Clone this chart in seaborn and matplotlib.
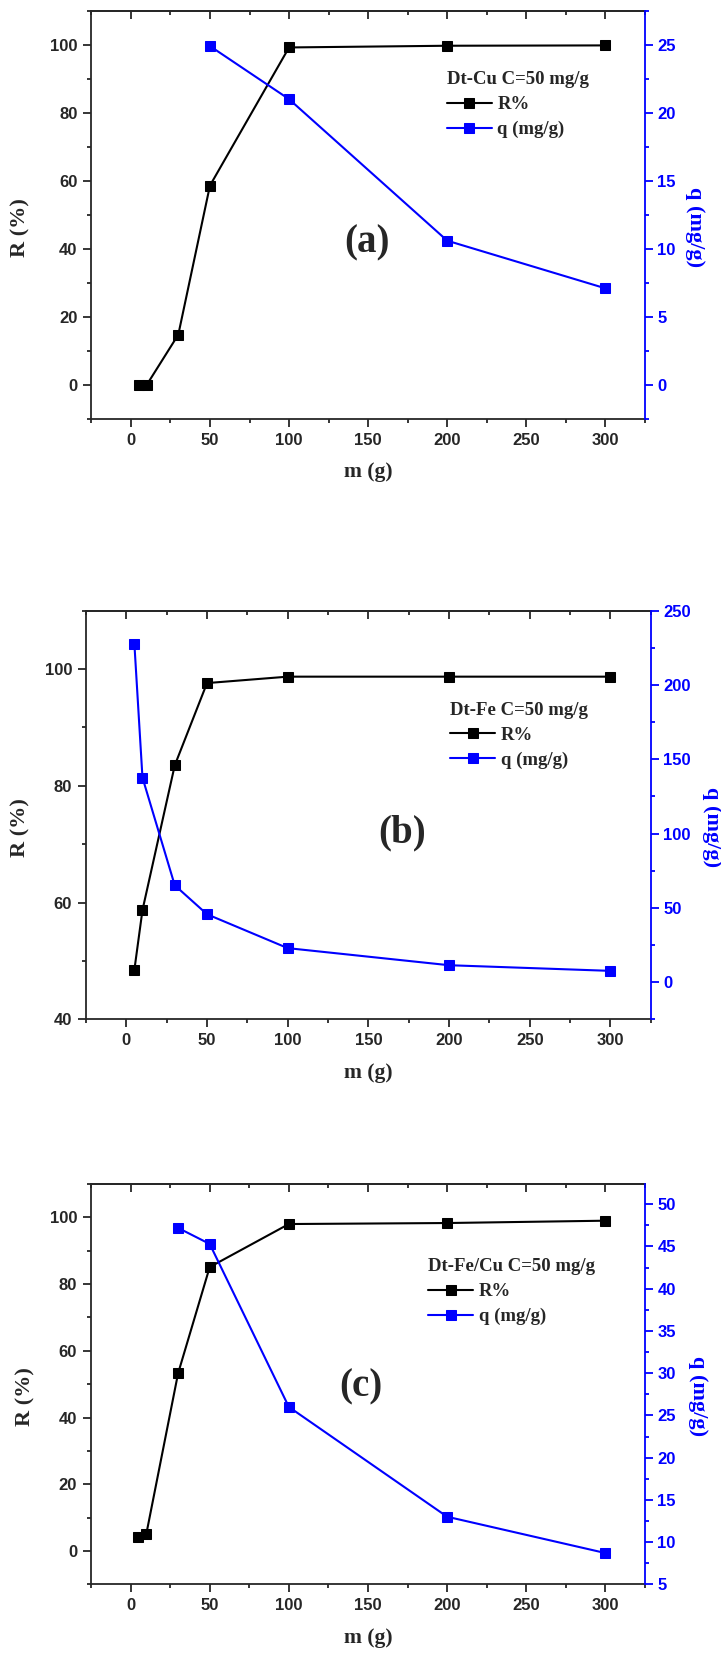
import matplotlib
matplotlib.use("Agg")
import matplotlib.pyplot as plt
import seaborn as sns
from matplotlib.ticker import MultipleLocator

# ---------------- data ----------------
mass = [5, 10, 30, 50, 100, 200, 300]

# (a) Dt-Cu
r_cu = [0.0, 0.0, 14.8, 58.6, 99.2, 99.7, 99.8]
q_cu_mass = [50, 100, 200, 300]
q_cu = [24.9, 21.0, 10.6, 7.1]

# (b) Dt-Fe
r_fe = [48.5, 58.7, 83.5, 97.6, 98.7, 98.7, 98.7]
q_fe_mass = [5, 10, 30, 50, 100, 200, 300]
q_fe = [227.4, 137.7, 65.2, 45.7, 22.9, 11.4, 7.6]

# (c) Dt-Fe/Cu
r_fecu = [4.2, 5.2, 53.2, 85.1, 98.0, 98.3, 99.0]
q_fecu_mass = [30, 50, 100, 200, 300]
q_fecu = [47.2, 45.3, 26.0, 13.0, 8.7]

titles = ["Dt-Cu C=50 mg/g", "Dt-Fe C=50 mg/g", "Dt-Fe/Cu C=50 mg/g"]
letters = ["(a)", "(b)", "(c)"]
series_labels = ["R%", "q (mg/g)"]
x_label = "m (g)"
r_label = "R (%)"
q_label = "q (mg/g)"

# ---------------- style ----------------
sns.set_style("ticks")
plt.rcParams["font.family"] = ["Liberation Sans Narrow", "Liberation Sans", "DejaVu Sans"]
plt.rcParams["font.weight"] = "bold"
plt.rcParams["font.size"] = 12
plt.rcParams["axes.linewidth"] = 1.3

SERIF = ["Liberation Serif", "DejaVu Serif"]
W, H = 721, 1661
fig = plt.figure(figsize=(W / 100, H / 100), dpi=100)


def px_rect(l, r, t, b):
    return [l / W, 1 - b / H, (r - l) / W, (b - t) / H]


panels = [
    dict(rect=px_rect(91.3, 645, 10.7, 419), r=r_cu, qx=q_cu_mass, q=q_cu,
         rlim=(-10, 110), rmaj=20, rmin=10, qlim=(-2.5, 27.5), qmaj=5, qmin=2.5,
         leg=(0.625, 0.875), letter=(0.498, 0.431), rlab=(-0.127, 0.47), qlab=(1.09, 0.47), xlab=-0.13),
    dict(rect=px_rect(86, 650.7, 610.7, 1019.3), r=r_fe, qx=q_fe_mass, q=q_fe,
         rlim=(40, 110), rmaj=20, rmin=10, qlim=(-25, 250), qmaj=50, qmin=25,
         leg=(0.628, 0.80), letter=(0.56, 0.456), rlab=(-0.116, 0.47), qlab=(1.108, 0.47), xlab=-0.131),
    dict(rect=px_rect(91, 645, 1184, 1584.3), r=r_fecu, qx=q_fecu_mass, q=q_fecu,
         rlim=(-10, 110), rmaj=20, rmin=10, qlim=(5, 52.4), qmaj=5, qmin=2.5,
         leg=(0.592, 0.838), letter=(0.487, 0.493), rlab=(-0.119, 0.47), qlab=(1.095, 0.47), xlab=-0.134),
]

for i, p in enumerate(panels):
    ax = fig.add_axes(p["rect"])
    ax2 = ax.twinx()

    sns.lineplot(x=mass, y=p["r"], ax=ax, color="black", marker="s", markersize=6.5,
                 markeredgecolor="black", linewidth=1.5, legend=False)
    sns.lineplot(x=p["qx"], y=p["q"], ax=ax2, color="blue", marker="s", markersize=6.5,
                 markeredgecolor="blue", linewidth=1.5, legend=False)

    ax.set_xlim(-25, 325)
    ax.set_ylim(*p["rlim"])
    ax2.set_ylim(*p["qlim"])

    ax.xaxis.set_major_locator(MultipleLocator(50))
    ax.xaxis.set_minor_locator(MultipleLocator(25))
    ax.yaxis.set_major_locator(MultipleLocator(p["rmaj"]))
    ax.yaxis.set_minor_locator(MultipleLocator(p["rmin"]))
    ax2.yaxis.set_major_locator(MultipleLocator(p["qmaj"]))
    ax2.yaxis.set_minor_locator(MultipleLocator(p["qmin"]))

    ax.tick_params(axis="x", which="both", direction="out", top=False, bottom=True,
                   width=1.3, pad=4, labelsize=12)
    ax.tick_params(axis="y", which="both", direction="out", left=True, right=False,
                   width=1.3, pad=4, labelsize=12)
    ax.tick_params(which="major", length=6)
    ax.tick_params(which="minor", length=3)
    ax2.tick_params(axis="y", which="both", direction="out", colors="blue", width=1.3, pad=3,
                    labelsize=12)
    ax2.tick_params(axis="y", which="major", length=6)
    ax2.tick_params(axis="y", which="minor", length=3)

    for lab in ax.get_xticklabels() + ax.get_yticklabels() + ax2.get_yticklabels():
        lab.set_fontweight("bold")

    # mirrored top ticks pointing inward
    sec = ax.secondary_xaxis("top")
    sec.xaxis.set_major_locator(MultipleLocator(50))
    sec.xaxis.set_minor_locator(MultipleLocator(25))
    sec.tick_params(axis="x", which="both", direction="in", labeltop=False, width=1.3)
    sec.tick_params(axis="x", which="major", length=6)
    sec.tick_params(axis="x", which="minor", length=3)

    ax.spines["right"].set_visible(False)
    for s in ("left", "top", "bottom"):
        ax2.spines[s].set_visible(False)
    ax2.spines["right"].set_color("blue")
    ax2.spines["right"].set_linewidth(1.3)

    ax.set_xlabel(x_label, fontfamily=SERIF, fontsize=15.5, fontweight="bold", va="center")
    ax.xaxis.set_label_coords(0.5, p["xlab"])
    ax.set_ylabel(r_label, fontfamily=SERIF, fontsize=16, fontweight="bold", va="center")
    ax.yaxis.set_label_coords(*p["rlab"])
    ax2.set_ylabel(q_label, fontfamily=SERIF, fontsize=16, fontweight="bold", color="blue",
                   rotation=270, va="center")
    ax2.yaxis.set_label_coords(*p["qlab"])

    ax.text(p["letter"][0], p["letter"][1], letters[i], transform=ax.transAxes,
            fontfamily=SERIF, fontsize=28, fontweight="bold", ha="center", va="center")

    handles = [ax.get_lines()[0], ax2.get_lines()[0]]
    ax2.legend(handles, series_labels, title=titles[i], loc="upper left",
               bbox_to_anchor=p["leg"], frameon=False, borderpad=0,
               handlelength=2.4, handletextpad=0.3, labelspacing=0.42,
               alignment="left",
               prop=dict(family=SERIF, size=13.5, weight="bold"),
               title_fontproperties=dict(family=SERIF, size=13.5, weight="bold"))

fig.savefig("out.png", dpi=100)
